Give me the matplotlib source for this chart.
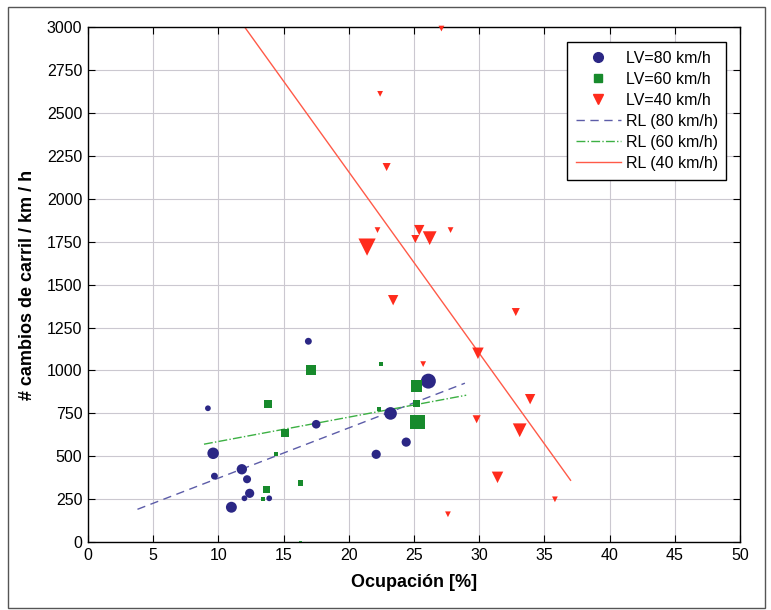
import numpy as np
import matplotlib.pyplot as plt
from matplotlib.lines import Line2D
from matplotlib.patches import Rectangle

plt.rcParams['font.family'] = ['Liberation Sans', 'DejaVu Sans']

# ---- datos LV=80 km/h (círculos) ----
ocup_80 = [9.2, 9.6, 9.7, 11.8, 12.2, 12.4, 12.0, 11.0, 13.9, 16.9, 17.5, 23.2, 24.4, 22.1, 26.1]
camb_80 = [780, 518, 385, 425, 367, 285, 256, 204, 256, 1170, 687, 750, 583, 512, 938]
tam_80 = [5, 10, 6, 9, 7, 8, 5, 9.5, 5, 6, 7.5, 11, 8, 8, 13]

# ---- datos LV=60 km/h (cuadrados) ----
ocup_60 = [13.8, 13.7, 13.4, 14.4, 17.1, 15.1, 16.3, 16.3, 22.5, 22.3, 25.2, 25.2, 25.3]
camb_60 = [804, 309, 250, 512, 1001, 635, 343, 0, 1037, 775, 910, 810, 700]
tam_60 = [7, 6, 3.5, 3.5, 9, 7.5, 5, 3, 3.5, 3.5, 10, 6, 13]

# ---- datos LV=40 km/h (triángulos) ----
ocup_40 = [27.1, 22.4, 22.9, 22.2, 21.4, 25.4, 25.1, 26.2, 27.8, 23.4,
           32.8, 29.9, 25.7, 33.9, 29.8, 33.1, 31.4, 35.8, 27.6]
camb_40 = [2990, 2610, 2184, 1817, 1718, 1817, 1765, 1770, 1817, 1409,
           1340, 1100, 1037, 833, 716, 652, 378, 250, 163]
tam_40 = [5, 5, 7, 5, 15, 9, 7, 12, 5, 9, 7, 10, 5, 9, 7, 12, 10, 5, 5]

# ---- rectas de regresión (extremos) ----
rl80_x = [3.8, 28.9]
rl80_y = [192, 926]
rl60_x = [8.9, 29.0]
rl60_y = [571, 856]
rl40_x = [11.0, 37.0]
rl40_y = [3106, 361]

col_80 = '#2b2785'
col_60 = '#178a2c'
col_40 = '#ff2b1c'

def area(px):
    # diámetro en píxeles -> área de scatter en pt^2 (dpi 100)
    return (np.array(px) * 0.72 * 1.15) ** 2

fig = plt.figure(figsize=(7.71, 6.10), dpi=100)
# marco exterior de la figura
fig.patches.append(Rectangle((0.010, 0.004), 0.982, 0.985, transform=fig.transFigure,
                             fill=False, edgecolor='#555555', lw=1.0))
ax = fig.add_axes([0.114, 0.111, 0.846, 0.845])

ax.plot(rl80_x, rl80_y, '--', color='#5c5ca8', lw=1.0, dashes=(6, 4))
ax.plot(rl60_x, rl60_y, '-.', color='#3cb043', lw=1.0)
ax.plot(rl40_x, rl40_y, '-', color='#ff5a48', lw=1.0)

ax.scatter(ocup_80, camb_80, s=area(tam_80), marker='o', color=col_80, zorder=3, lw=0)
ax.scatter(ocup_60, camb_60, s=area(tam_60), marker='s', color=col_60, zorder=3, lw=0)
ax.scatter(ocup_40, camb_40, s=area(tam_40), marker='v', color=col_40, zorder=3, lw=0,
           clip_on=False)

ax.set_xlim(0, 50)
ax.set_ylim(0, 3000)
ax.set_xticks(np.arange(0, 51, 5))
ax.set_yticks(np.arange(0, 3001, 250))
ax.grid(True, color='#cbc8d0', lw=0.8)
ax.set_axisbelow(True)
ax.tick_params(direction='in', top=True, right=True, labelsize=11.5, length=5, pad=4)
for s in ax.spines.values():
    s.set_linewidth(1.0)

ax.set_xlabel('Ocupación [%]', fontsize=13, fontweight='bold', labelpad=8)
ax.set_ylabel('# cambios de carril / km / h', fontsize=13, fontweight='bold', labelpad=8)

handles = [
    Line2D([], [], ls='none', marker='o', color=col_80, ms=7),
    Line2D([], [], ls='none', marker='s', color=col_60, ms=6),
    Line2D([], [], ls='none', marker='v', color=col_40, ms=7),
    Line2D([], [], ls='--', color='#5c5ca8', lw=1.0, dashes=(6, 4)),
    Line2D([], [], ls='-.', color='#3cb043', lw=1.0),
    Line2D([], [], ls='-', color='#ff5a48', lw=1.0),
]
labels = ['LV=80 km/h', 'LV=60 km/h', 'LV=40 km/h',
          'RL (80 km/h)', 'RL (60 km/h)', 'RL (40 km/h)']
leg = ax.legend(handles, labels, loc='upper right', fontsize=11.5, fancybox=False,
                edgecolor='black', framealpha=1, bbox_to_anchor=(0.979, 0.971),
                borderaxespad=0, handlelength=2.8, handletextpad=0.3,
                borderpad=0.55, labelspacing=0.38)
leg.get_frame().set_linewidth(1.0)

fig.savefig('out.png', dpi=100)
